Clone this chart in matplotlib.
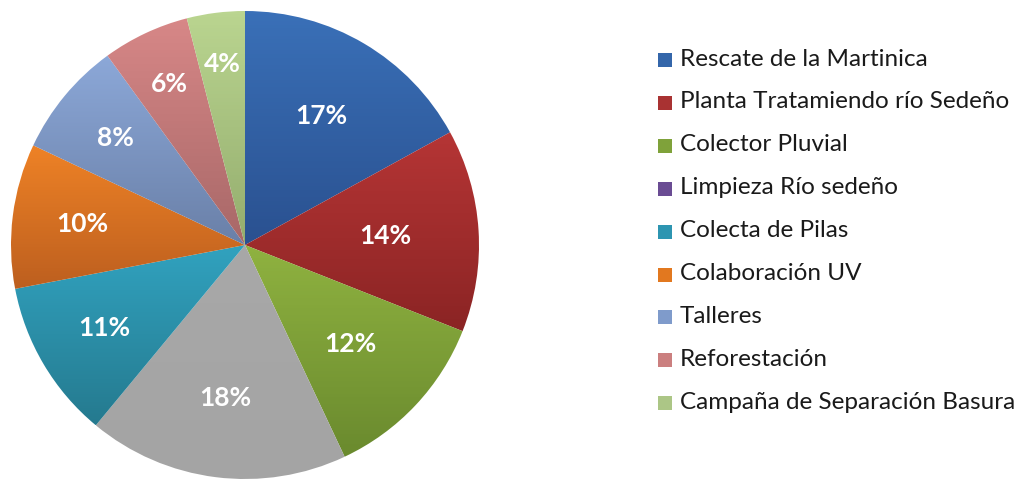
import matplotlib.pyplot as plt
import numpy as np
from matplotlib.patches import Rectangle

# Data
labels = ["Rescate de la Martinica", "Planta Tratamiendo río Sedeño", "Colector Pluvial",
          "Limpieza Río sedeño", "Colecta de Pilas", "Colaboración UV", "Talleres",
          "Reforestación", "Campaña de Separación Basura"]
values = [17, 14, 12, 18, 11, 10, 8, 6, 4]

# slice colours (top, bottom of gradient) and legend colours
top_cols = ["#3A70B8", "#B53535", "#8FB240", "#A8A8A8", "#31A2BF", "#EE8226", "#8CA8D8", "#D78787", "#BAD590"]
bot_cols = ["#2A5190", "#8B2424", "#6A8A2E", "#A4A4A4", "#257A8F", "#BD5F1F", "#6A80A8", "#A86868", "#94AD6E"]
legend_cols = ["#3466AA", "#A93232", "#7FA23A", "#6A4C93", "#2D95B1", "#E2781F", "#7F9BCB", "#CB7F7F", "#ACC686"]
label_dist = [0.64, 0.60, 0.62, 0.66, 0.70, 0.70, 0.72, 0.76, 0.78]

plt.rcParams['font.family'] = ['Lato', 'DejaVu Sans']

fig = plt.figure(figsize=(10.24, 4.83), dpi=100)
cx, cy, r = 245, 245, 234
ax = fig.add_axes([(cx - r) / 1024, (483 - cy - r) / 483, 2 * r / 1024, 2 * r / 483])

wedges, _ = ax.pie(values, startangle=90, counterclock=False, radius=1,
                   colors=top_cols, wedgeprops=dict(linewidth=0))

# vertical gradient per wedge
for w, c1, c2 in zip(wedges, top_cols, bot_cols):
    bb = w.get_path().get_extents(w.get_patch_transform())
    a = np.array(plt.matplotlib.colors.to_rgb(c1))
    b = np.array(plt.matplotlib.colors.to_rgb(c2))
    t = np.linspace(0, 1, 64)[:, None]
    grad = (a * (1 - t) + b * t)[:, None, :]
    im = ax.imshow(grad, extent=[bb.x0, bb.x1, bb.y0, bb.y1], origin='upper',
                   aspect='auto', zorder=2)
    im.set_clip_path(w)
    w.set_facecolor('none')

for w, v, d in zip(wedges, values, label_dist):
    ang = np.deg2rad((w.theta1 + w.theta2) / 2)
    ax.text(d * np.cos(ang), d * np.sin(ang), f"{v}%", ha='center', va='center',
            color='white', fontsize=19, fontweight='bold', zorder=5)

ax.set_xlim(-1, 1)
ax.set_ylim(-1, 1)
ax.set_aspect('auto')
ax.axis('off')

# legend drawn by hand
for i, (lab, col) in enumerate(zip(labels, legend_cols)):
    y = 60 + i * 42.9
    fig.patches.append(Rectangle((658 / 1024, 1 - (y + 7) / 483), 14 / 1024, 14 / 483,
                                 transform=fig.transFigure, facecolor=col, edgecolor='none'))
    fig.text(680 / 1024, 1 - (y - 1) / 483, lab, ha='left', va='center', fontsize=17.5, color='#1a1a1a')

fig.savefig("out.png", dpi=100)
